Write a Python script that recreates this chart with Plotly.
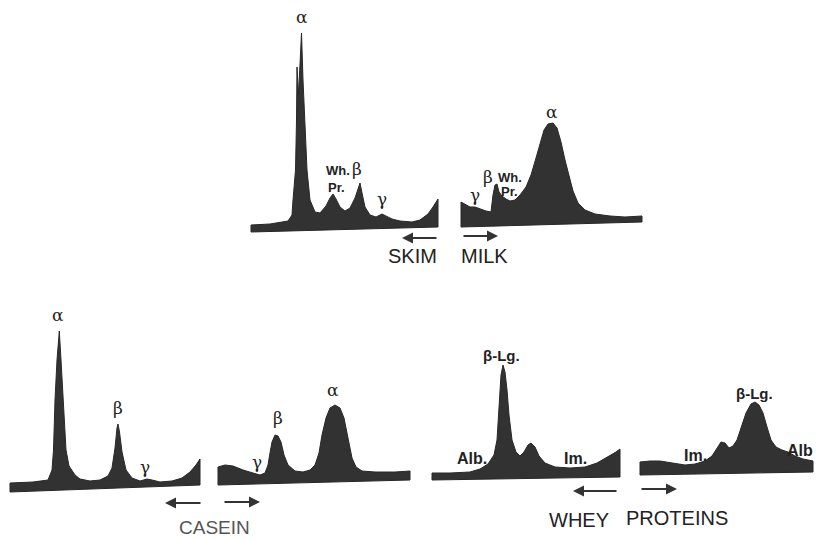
import plotly.graph_objects as go

# ---------------- DATA ----------------
# Each pattern: position along the cell (from its left end) and gradient height.
# Upper contour of the pattern
skim_desc_pos = [1, 20, 38, 42, 43, 45.5, 46.5, 47, 48.5, 50, 51.5, 53, 54.5, 57, 60, 65, 70, 76, 80, 83, 86, 90, 95,
                 100, 105, 108, 110, 112, 115, 120, 126, 132, 136, 142, 150, 162, 170, 178, 183, 188]
skim_desc_top = [15, 16, 19, 25, 40, 70, 120, 173, 145, 180, 207, 160, 120, 70, 40, 28, 27, 34, 42, 46, 41, 33, 29,
                 32, 42, 52, 57, 47, 33, 25, 23, 26, 24, 21, 19, 18, 20, 26, 33, 41]
skim_desc_base_pos = [1, 188]
skim_desc_base = [8, 13]

skim_asc_pos = [1, 6, 10, 15, 20, 26, 31, 33, 35, 37, 39, 42, 46, 50, 55, 60, 66, 71, 76, 80, 84, 88, 93, 97, 101,
                105, 109, 113, 118, 125, 135, 150, 165, 182]
skim_asc_top = [38, 35, 33, 33, 31, 29, 28, 45, 55, 56, 48, 44, 41, 39, 40, 45, 53, 65, 82, 97, 110, 116, 117, 112, 98,
                80, 63, 49, 37, 30, 26, 24, 23, 24]
skim_asc_base_pos = [1, 182]
skim_asc_base = [13, 18]

casein_desc_pos = [0, 23, 38, 42, 43.5, 45, 47, 49.3, 51, 53, 56, 59, 65, 70, 80, 90, 98, 102, 105, 107, 108, 109.5,
                   112, 116, 122, 130, 137, 142, 150, 162, 172, 180, 186, 190]
casein_desc_top = [17, 18, 20, 30, 50, 100, 140, 169, 140, 100, 50, 34, 25, 21, 19, 20, 24, 32, 52, 72, 76, 68,
                   48, 30, 22, 19, 21, 20, 18, 19, 22, 28, 35, 41]
casein_desc_base_pos = [0, 190]
casein_desc_base = [8, 15]

casein_asc_pos = [0, 7, 15, 25, 35, 42, 47, 50, 52, 54, 57, 60, 63, 66, 70, 77, 85, 92, 97, 101, 104, 108, 112, 117,
                  122, 126, 130, 134, 138, 144, 157, 177, 192]
casein_asc_top = [33, 35, 34, 30, 27, 25, 27, 35, 47, 58, 65, 64, 58, 45, 35, 29, 28, 30, 35, 47, 65, 82, 92, 95,
                  92, 82, 62, 42, 33, 29, 28, 28, 29]
casein_asc_base_pos = [0, 192]
casein_asc_base = [15, 20]

whey_desc_pos = [0, 18, 38, 48, 56, 62, 65, 67, 69, 71, 73, 75, 77, 80, 84, 88, 92, 96, 99, 103, 107, 113, 123, 138,
                 153, 165, 176, 184, 188]
whey_desc_top = [17, 17, 18, 21, 26, 35, 50, 85, 115, 125, 118, 100, 75, 50, 38, 34, 38, 45, 47, 43, 34, 27, 23, 22,
                 23, 27, 33, 38, 41]
whey_desc_base_pos = [0, 188]
whey_desc_base = [10, 13]

whey_asc_pos = [0, 10, 20, 32, 45, 55, 65, 72, 77, 81, 85, 89, 93, 97, 101, 106, 111, 115, 119, 123, 127, 131, 136,
                142, 148, 155, 163, 173]
whey_asc_top = [28, 29, 29, 27, 25, 26, 29, 34, 42, 48, 47, 42, 44, 50, 62, 77, 86, 88, 85, 77, 63, 50, 43, 40, 38,
                34, 31, 29]
whey_asc_base_pos = [0, 173]
whey_asc_base = [15, 18]

# Peak labels: (text, position, height, kind)
skim_desc_labels = [("α", 52, 223, "g"), ("Wh.", 88, 70, "b"), ("β", 107, 71, "g"), ("Pr.", 86, 53, "b"),
                    ("γ", 132, 41, "g")]
skim_asc_labels = [("α", 92, 128, "g"), ("β", 28, 63, "g"), ("Wh.", 50, 63, "b"), ("Pr.", 49, 49, "b"),
                   ("γ", 15, 45, "g")]
casein_desc_labels = [("α", 48, 185, "g"), ("β", 108, 92, "g"), ("γ", 135, 33, "g")]
casein_asc_labels = [("α", 115, 110, "g"), ("β", 60, 82, "g"), ("γ", 39, 38, "g")]
whey_desc_labels = [("β-Lg.", 69, 135, "b"), ("Alb.", 40, 32, "b"), ("Im.", 143, 32, "b")]
whey_asc_labels = [("β-Lg.", 114, 97, "b"), ("Im.", 55, 35, "b"), ("Alb", 160, 40, "b")]

group_titles = ["SKIM", "MILK", "CASEIN", "WHEY", "PROTEINS"]

# ---------------- LAYOUT / STYLE ----------------
FW, FH = 816, 539
FILL = "#323232"
INK = "#222222"

patterns = [
    # data, labels, frame: (left px, bottom px, x-min, x-max, height units)
    (skim_desc_pos, skim_desc_top, skim_desc_base_pos, skim_desc_base, skim_desc_labels, (250, 240, -5, 195, 240)),
    (skim_asc_pos, skim_asc_top, skim_asc_base_pos, skim_asc_base, skim_asc_labels, (460, 240, -5, 190, 240)),
    (casein_desc_pos, casein_desc_top, casein_desc_base_pos, casein_desc_base, casein_desc_labels,
     (10, 500, -5, 195, 210)),
    (casein_asc_pos, casein_asc_top, casein_asc_base_pos, casein_asc_base, casein_asc_labels,
     (218, 500, -5, 197, 210)),
    (whey_desc_pos, whey_desc_top, whey_desc_base_pos, whey_desc_base, whey_desc_labels, (432, 490, -5, 193, 200)),
    (whey_asc_pos, whey_asc_top, whey_asc_base_pos, whey_asc_base, whey_asc_labels, (640, 490, -5, 176, 200)),
]

fig = go.Figure()
annotations = []
layout_axes = {}

for i, (pos, top, bpos, base, labels, frame) in enumerate(patterns, start=1):
    left, bottom, xmin, xmax, hgt = frame
    xa = "x" if i == 1 else f"x{i}"
    ya = "y" if i == 1 else f"y{i}"
    xs = list(pos) + list(reversed(bpos)) + [pos[0]]
    ys = list(top) + list(reversed(base)) + [top[0]]
    fig.add_trace(go.Scatter(x=xs, y=ys, mode="lines", fill="toself", fillcolor=FILL,
                             line=dict(color="#282828", width=1), xaxis=xa, yaxis=ya,
                             hoverinfo="skip", showlegend=False))
    x0 = (left + xmin) / FW
    x1 = (left + xmax) / FW
    y0 = 1 - bottom / FH
    y1 = 1 - (bottom - hgt) / FH
    axname = "xaxis" if i == 1 else f"xaxis{i}"
    ayname = "yaxis" if i == 1 else f"yaxis{i}"
    layout_axes[axname] = dict(domain=[max(0, x0), min(1, x1)], range=[xmin, xmax], visible=False,
                               anchor=ya, fixedrange=True)
    layout_axes[ayname] = dict(domain=[max(0, y0), min(1, y1)], range=[0, hgt], visible=False,
                               anchor=xa, fixedrange=True)
    for text, lx, ly, kind in labels:
        if kind == "g":
            font = dict(family="DejaVu Serif", size=17, color=INK)
        elif text.startswith("β"):
            font = dict(family="Liberation Sans", size=15, color=INK)
        elif text in ("Wh.", "Pr."):
            font = dict(family="Liberation Sans", size=13, color=INK)
        else:
            font = dict(family="Liberation Sans", size=16, color=INK)
        annotations.append(dict(text=f"<b>{text}</b>" if kind == "b" else text, x=lx, y=ly,
                                xref=xa, yref=ya, showarrow=False, font=font,
                                xanchor="center", yanchor="middle"))

# direction arrows (head px, tail px, y px)
arrows = [(402, 438, 238), (498, 462, 236), (165, 202, 503), (260, 223, 502), (573, 618, 491), (677, 640, 489)]
for hx, tx, ay in arrows:
    annotations.append(dict(x=hx / FW, y=1 - ay / FH, xref="paper", yref="paper", ax=tx - hx, ay=0,
                            axref="pixel", ayref="pixel", text="", showarrow=True, arrowhead=2,
                            arrowsize=1.1, arrowwidth=2, arrowcolor="#333333"))

# group titles (centre px, y px, colour, size)
title_pos = [(412, 256, INK, 20), (484, 256, INK, 20), (214, 527, "#555555", 19), (579, 520, INK, 20),
             (677, 518, INK, 20)]
for t, (cx, cy, col, sz) in zip(group_titles, title_pos):
    annotations.append(dict(text=t, x=cx / FW, y=1 - cy / FH, xref="paper", yref="paper", showarrow=False,
                            font=dict(family="Liberation Sans", size=sz, color=col),
                            xanchor="center", yanchor="middle"))

fig.update_layout(width=FW, height=FH, margin=dict(l=0, r=0, t=0, b=0), paper_bgcolor="white",
                  plot_bgcolor="rgba(0,0,0,0)", showlegend=False, annotations=annotations, **layout_axes)

fig.write_html("out.html", config={"displayModeBar": False, "staticPlot": True},
               post_script="document.body.style.margin='0';document.body.style.overflow='hidden';")
